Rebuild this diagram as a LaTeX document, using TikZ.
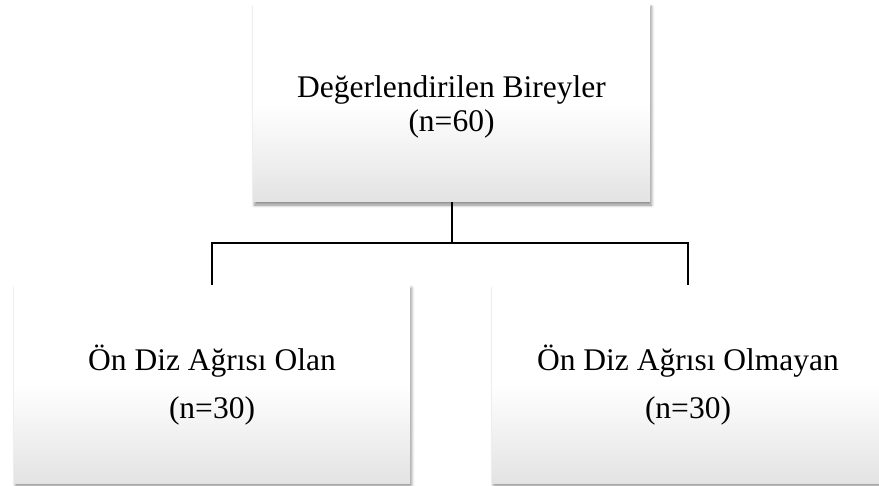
\documentclass[tikz,border=0pt]{standalone}
\usepackage{fontspec}
\setmainfont{Liberation Serif}
\usetikzlibrary{shadows.blur}
\begin{document}
\begin{tikzpicture}[x=1pt,y=1pt,
  boxstyle/.style={rectangle, draw=none, minimum height=198pt, align=center,
    top color=white, bottom color=black!11, middle color=white,
    blur shadow={shadow xshift=1.5pt, shadow yshift=-3pt, shadow blur radius=3pt, shadow opacity=45}},
  conn/.style={draw=black, line width=2pt}]
\useasboundingbox (0,0) rectangle (879,-486);
\clip (0,0) rectangle (879,-486);
\node[boxstyle, minimum width=397pt] (top) at (451.5,-103) {};
\node[boxstyle, minimum width=396pt] (left) at (212,-384) {};
\node[boxstyle, minimum width=392pt] (right) at (688,-384) {};
\node[align=center, font=\fontsize{31.5}{34}\selectfont] (topT) at ([yshift=-4pt]top.center)
  {Değerlendirilen Bireyler\\(n=60)};
\node[align=center, font=\fontsize{31.5}{48}\selectfont] (leftT) at ([yshift=-1pt]left.center)
  {Ön Diz Ağrısı Olan\\(n=30)};
\node[align=center, font=\fontsize{31.5}{48}\selectfont] (rightT) at ([yshift=-1pt]right.center)
  {Ön Diz Ağrısı Olmayan\\(n=30)};
\coordinate (mid) at (451.5,-243);
\draw[conn] (top.south -| mid) -- (mid);
\draw[conn] (left.north) |- (mid) -| (right.north);
\end{tikzpicture}
\end{document}
